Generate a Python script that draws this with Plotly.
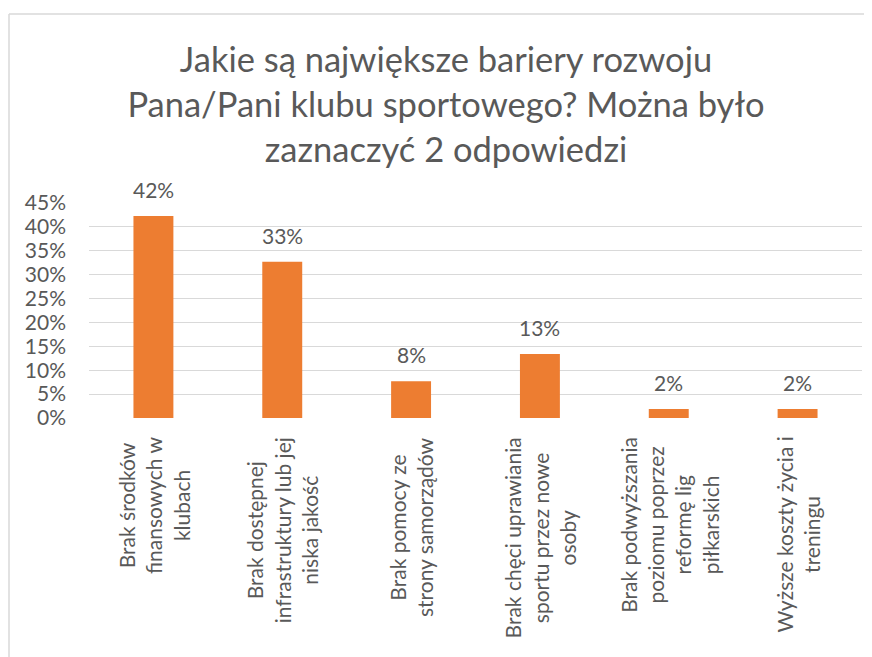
import plotly.graph_objects as go

categories = [
    "Brak środków<br>finansowych w<br>klubach",
    "Brak dostępnej<br>infrastruktury lub jej<br>niska jakość",
    "Brak pomocy ze<br>strony samorządów",
    "Brak chęci uprawiania<br>sportu przez nowe<br>osoby",
    "Brak podwyższania<br>poziomu poprzez<br>reformę lig<br>piłkarskich",
    "Wyższe koszty życia i<br>treningu",
]
values = [0.423, 0.327, 0.077, 0.134, 0.019, 0.019]
tick_vals = [0, 0.05, 0.10, 0.15, 0.20, 0.25, 0.30, 0.35, 0.40, 0.45]
tick_text = ["0%", "5%", "10%", "15%", "20%", "25%", "30%", "35%", "40%", "45%"]
title_text = "Jakie są największe bariery rozwoju<br>Pana/Pani klubu sportowego? Można było<br>zaznaczyć 2 odpowiedzi"

FONT = "Lato"
GREY = "#595959"

fig = go.Figure()
fig.add_trace(go.Bar(
    x=list(range(len(categories))), y=values,
    marker=dict(color="#ED7D31", line=dict(width=0)),
    width=0.31,
    hoverinfo="skip",
))

annotations = []
for i, v in enumerate(values):
    annotations.append(dict(
        x=i, y=v, xref="x", yref="y", text=f"{round(v*100)}%",
        showarrow=False, yanchor="bottom", yshift=12,
        font=dict(family=FONT, size=21, color=GREY),
    ))
for i, c in enumerate(categories):
    annotations.append(dict(
        x=i, y=0, xref="x", yref="paper", text=c, textangle=-90,
        showarrow=False, yanchor="top", xanchor="center", yshift=-17,
        align="center",
        font=dict(family=FONT, size=21, color=GREY),
    ))

frame_left = -80.0 / 773
frame_top = (418 - 14) / 215

fig.update_layout(
    width=856, height=649,
    margin=dict(l=81, r=2, t=195, b=239),
    paper_bgcolor="white", plot_bgcolor="white",
    showlegend=False,
    title=dict(
        text=title_text, x=0.5117, xanchor="center",
        y=1 - 64 / 649, yanchor="top", yref="container",
        font=dict(family=FONT, size=34.5, color=GREY),
    ),
    xaxis=dict(
        range=[-0.5, len(categories) - 0.5],
        showticklabels=False, showgrid=False, zeroline=False,
        showline=False, ticks="",
    ),
    yaxis=dict(
        range=[0, 0.45], tickvals=tick_vals, ticktext=tick_text,
        showgrid=True, gridcolor="#D9D9D9", gridwidth=1.3,
        zeroline=False, showline=False, ticks="",
        tickfont=dict(family=FONT, size=21, color=GREY),
        ticklabelstandoff=22,
    ),
    annotations=annotations,
    shapes=[
        dict(type="line", xref="paper", yref="paper",
             x0=frame_left, x1=1.1, y0=frame_top, y1=frame_top,
             line=dict(color="#D9D9D9", width=1.5), layer="below"),
        dict(type="line", xref="paper", yref="paper",
             x0=frame_left, x1=frame_left, y0=-1.5, y1=frame_top,
             line=dict(color="#D9D9D9", width=1.5), layer="below"),
    ],
)

fig.write_html("out.html")
